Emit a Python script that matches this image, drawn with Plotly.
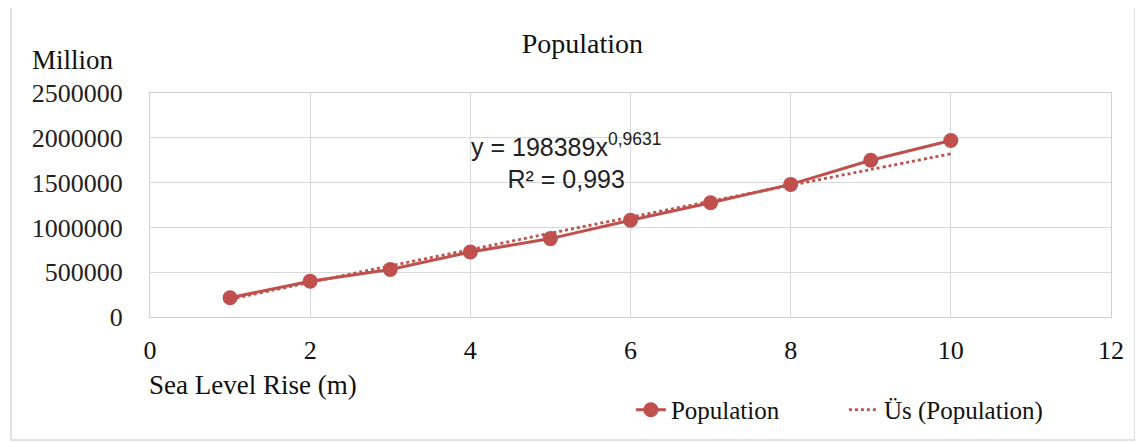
import plotly.graph_objects as go

sea_level = [1, 2, 3, 4, 5, 6, 7, 8, 9, 10]
population = [215000, 400000, 530000, 725000, 875000, 1080000, 1275000, 1480000, 1750000, 1970000]
trend = [198389, 386000, 571000, 752000, 935000, 1114000, 1292000, 1470000, 1646000, 1822000]
x_ticks = [0, 2, 4, 6, 8, 10, 12]
y_ticks = [0, 500000, 1000000, 1500000, 2000000, 2500000]

red = "#c0504d"
serif = "Liberation Serif, Times New Roman, serif"
sans = "Liberation Sans, Arial, sans-serif"

fig = go.Figure()
fig.add_trace(go.Scatter(x=sea_level, y=population, mode="lines+markers", name="Population",
                         line=dict(color=red, width=3), marker=dict(color=red, size=15)))
fig.add_trace(go.Scatter(x=sea_level, y=trend, mode="lines", name="Üs (Population)",
                         line=dict(color=red, width=2.8, dash="dot", shape="spline")))

fig.update_layout(
    width=1135, height=435,
    margin=dict(l=142, r=32, t=85, b=126, autoexpand=False),
    paper_bgcolor="white", plot_bgcolor="white",
    font=dict(family=serif, size=26, color="#222222"),
    title=dict(text="Population", x=0.506, xanchor="center", y=0.9195, yanchor="middle",
               font=dict(family=serif, size=28, color="#111111")),
    showlegend=True,
    legend=dict(orientation="h", x=0.5004, xanchor="left", y=-0.415, yanchor="middle",
                font=dict(family=serif, size=25, color="#111111"),
                entrywidth=168, entrywidthmode="pixels",
                bgcolor="rgba(0,0,0,0)"),
    xaxis=dict(range=[0, 12], tickvals=x_ticks, ticktext=[str(v) for v in x_ticks],
               showgrid=True, gridcolor="#d9d9d9", gridwidth=1,
               showline=True, linecolor="#d0d0d0", linewidth=1, mirror=True,
               zeroline=False, ticks="", ticklabelstandoff=10, automargin=False,
               tickfont=dict(family=serif, size=26, color="#111111")),
    yaxis=dict(range=[0, 2500000], tickvals=y_ticks, ticktext=[str(v) for v in y_ticks],
               showgrid=True, gridcolor="#d9d9d9", gridwidth=1,
               showline=True, linecolor="#d0d0d0", linewidth=1, mirror=True,
               zeroline=False, ticks="", ticklabelstandoff=21, automargin=False,
               tickfont=dict(family=serif, size=26, color="#222222")),
    shapes=[dict(type="rect", xref="paper", yref="paper",
                 x0=-0.1446, x1=1.025, y0=-0.549, y1=1.388,
                 line=dict(color="#d9d9d9", width=1.5))],
    annotations=[
        dict(text="Million", xref="paper", yref="paper", x=-0.1249, y=1.147,
             xanchor="left", yanchor="middle", showarrow=False,
             font=dict(family=serif, size=27, color="#111111")),
        dict(text="Sea Level Rise (m)", xref="paper", yref="paper", x=-0.003, y=-0.304,
             xanchor="left", yanchor="middle", showarrow=False,
             font=dict(family=serif, size=27, color="#111111")),
        dict(text="y = 198389x<sup>0,9631</sup><br>R² = 0,993", xref="x", yref="y",
             x=5.2, y=1744000, xanchor="center", yanchor="middle", showarrow=False,
             align="center", font=dict(family=sans, size=25, color="#222222")),
    ],
)

fig.write_html("out.html")
